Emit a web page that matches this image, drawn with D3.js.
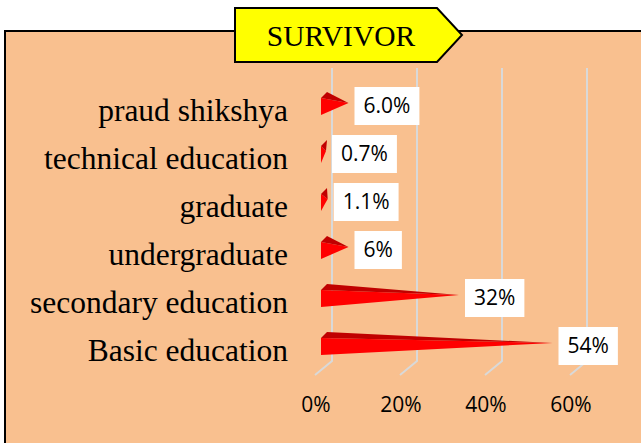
<!DOCTYPE html>
<html>
<head>
<meta charset="utf-8">
<script src="https://cdn.jsdelivr.net/npm/d3@7"></script>
<style>
  body { margin: 0; background: #fff; }
</style>
</head>
<body>
<div class="chart"></div>
<script>
// survivor education chart
var categories = ["praud shikshya", "technical education", "graduate", "undergraduate", "secondary education", "Basic education"];
var values = [6.0, 0.7, 1.1, 6, 32, 54];
var valueLabels = ["6.0%", "0.7%", "1.1%", "6%", "32%", "54%"];
var ticks = [0, 20, 40, 60];
var title = "SURVIVOR";

var width = 641, height = 443;

var svg = d3.select(".chart").append("svg")
    .attr("width", width)
    .attr("height", height);

// chart area background
svg.append("rect")
    .attr("x", 5).attr("y", 31)
    .attr("width", 660).attr("height", 440)
    .attr("fill", "#F9C08F")
    .attr("stroke", "#000")
    .attr("stroke-width", 2);

var x = d3.scaleLinear()
    .domain([0, 60])
    .range([332, 587]);

var y = d3.scaleBand()
    .domain(categories)
    .range([86, 374]);

// gridlines with the 3d floor
svg.append("g").selectAll("path")
    .data(ticks)
    .enter().append("path")
    .attr("d", function (d) {
        return "M" + x(d) + ",68 L" + x(d) + ",361 L" + (x(d) - 17) + ",375";
    })
    .attr("fill", "none")
    .attr("stroke", "#D9D9D9")
    .attr("stroke-width", 2);

// tick labels
svg.append("g").selectAll("text")
    .data(ticks)
    .enter().append("text")
    .attr("x", function (d) { return x(d) - 16; })
    .attr("y", 405)
    .attr("dy", "0.35em")
    .attr("text-anchor", "middle")
    .style("font-family", "Open Sans")
    .style("font-size", "21px")
    .text(function (d) { return d + "%"; });

// category labels
svg.append("g").selectAll("text")
    .data(categories)
    .enter().append("text")
    .attr("x", 288)
    .attr("y", function (d) { return y(d) + y.bandwidth() / 2; })
    .attr("dy", "0.35em")
    .attr("text-anchor", "end")
    .style("font-family", "Liberation Serif")
    .style("font-size", "31.5px")
    .text(function (d) { return d; });

// cone bars
var bars = svg.append("g").selectAll("g")
    .data(values)
    .enter().append("g");

function cy(i) { return y(categories[i]) + y.bandwidth() / 2; }

bars.append("path")
    .attr("d", function (d, i) {
        var c = cy(i), x0 = x(0) - 11, tip = Math.max(x(d) - 9, x0 + 5);
        return "M" + x0 + "," + (c + 5) + " L" + x0 + "," + (c - 12) + " L" + tip + "," + (c - 7) + "Z";
    })
    .attr("fill", "#FF0000");

bars.append("path")
    .attr("d", function (d, i) {
        var c = cy(i), x0 = x(0) - 11, tip = Math.max(x(d) - 9, x0 + 5);
        return "M" + x0 + "," + (c - 12) + " L" + (x0 + 6) + "," + (c - 18) + " L" + tip + "," + (c - 7) + "Z";
    })
    .attr("fill", "#C00000");

// value labels in white boxes
var labels = svg.append("g").selectAll("g")
    .data(values)
    .enter().append("g");

labels.each(function (d, i) {
    var g = d3.select(this);
    var c = cy(i) - 4;
    var left = Math.max(x(d) - 9, x(0) - 6) + 6;
    var t = g.append("text")
        .attr("y", c)
        .attr("dy", "0.35em")
        .attr("text-anchor", "middle")
        .style("font-family", "Open Sans")
        .style("font-size", "21px")
        .text(valueLabels[i]);
    var w = t.node().getComputedTextLength() + 18;
    t.attr("x", left + w / 2);
    g.insert("rect", "text")
        .attr("x", left)
        .attr("y", c - 19)
        .attr("width", w)
        .attr("height", 38)
        .attr("fill", "#fff");
});

// title banner
var tg = svg.append("g");
tg.append("path")
    .attr("d", "M235,8 L437,8 L462,35 L437,62 L235,62 Z")
    .attr("fill", "#FFFF00")
    .attr("stroke", "#000")
    .attr("stroke-width", 2);
tg.append("text")
    .attr("x", 341)
    .attr("y", 36)
    .attr("dy", "0.35em")
    .attr("text-anchor", "middle")
    .style("font-family", "Liberation Serif")
    .style("font-size", "29.5px")
    .text(title);
</script>
</body>
</html>
